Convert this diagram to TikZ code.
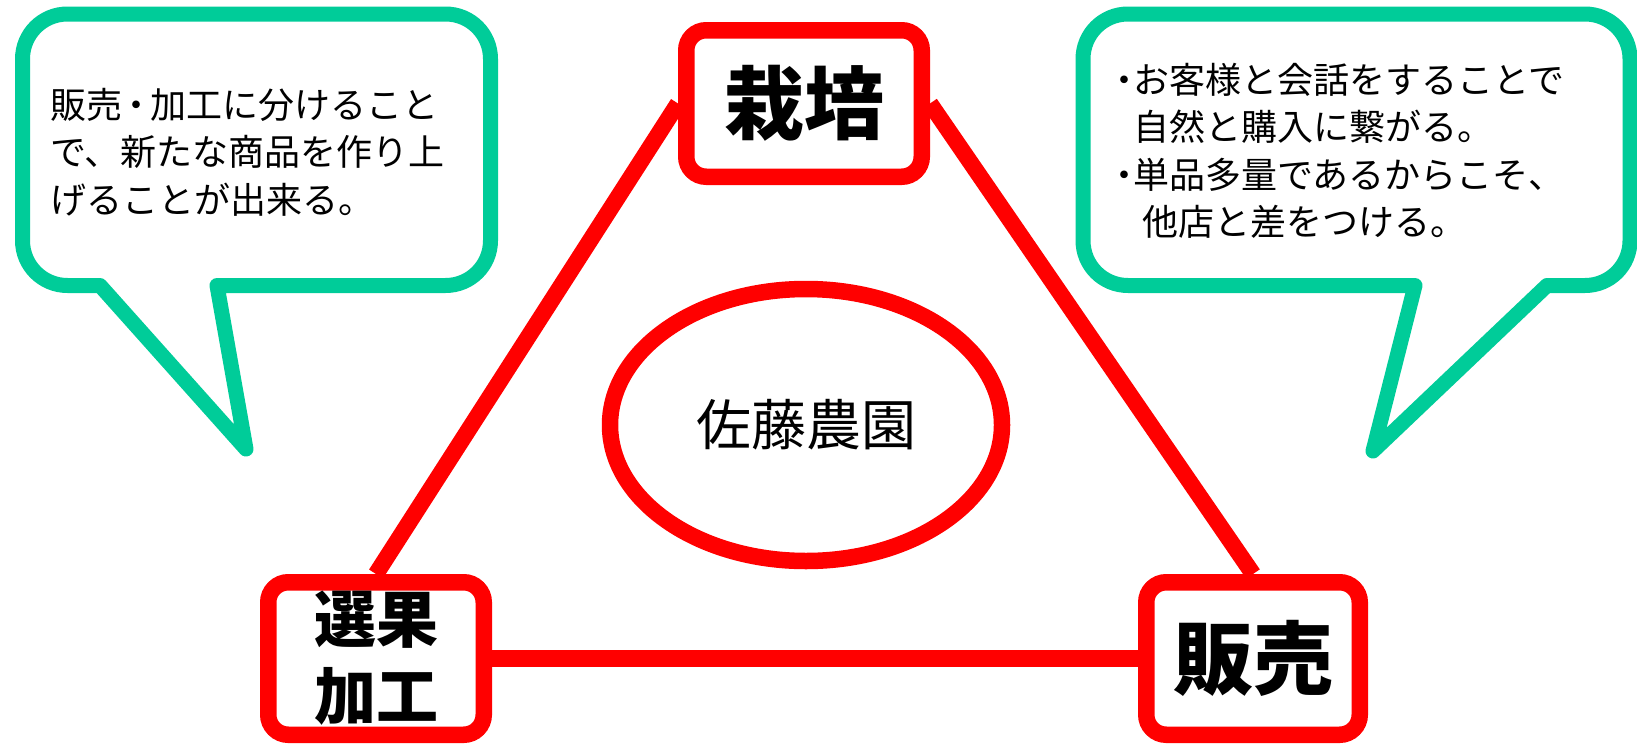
\documentclass[tikz,border=0pt]{standalone}
\usepackage{fontspec}
\setmainfont{Noto Sans CJK JP}
\usetikzlibrary{shapes.geometric}
\definecolor{myred}{RGB}{255,0,0}
\definecolor{mygreen}{RGB}{0,204,153}
\tikzset{
  redbox/.style={draw=myred, line width=16.5pt, fill=white, rounded corners=20pt,
    inner sep=0pt, align=center},
  redline/.style={draw=myred, line width=16.5pt},
  bubble/.style={draw=mygreen, line width=15pt, fill=white, line join=round},
  bubbletext/.style={anchor=north west, inner sep=0pt, align=left,
    font=\fontsize{36}{47.5}\selectfont},
  bigfont/.style={font=\bfseries\fontsize{80}{90}\selectfont},
}
\begin{document}
\begin{tikzpicture}[x=1pt,y=-1pt]
\useasboundingbox (0,0) rectangle (1637,744);
% speech bubbles
\draw[bubble] (67.5,14) -- (445.5,14) .. controls (470.5,14) and (490.5,34) .. (490.5,59)
  -- (490.5,240.5) .. controls (490.5,265.5) and (470.5,285.5) .. (445.5,285.5)
  -- (217,285.5) -- (246,449) -- (100,285.5) -- (67.5,285.5)
  .. controls (42.5,285.5) and (22.5,265.5) .. (22.5,240.5)
  -- (22.5,59) .. controls (22.5,34) and (42.5,14) .. (67.5,14) -- cycle;
\draw[bubble] (1128,14) -- (1585,14) .. controls (1610,14) and (1630,34) .. (1630,59)
  -- (1630,240.5) .. controls (1630,265.5) and (1610,285.5) .. (1585,285.5)
  -- (1547,285.5) -- (1373,451) -- (1415,285.5) -- (1128,285.5)
  .. controls (1103,285.5) and (1083,265.5) .. (1083,240.5)
  -- (1083,59) .. controls (1083,34) and (1103,14) .. (1128,14) -- cycle;
\node[bubbletext] (ltext) at (50,88)
  {販売\makebox[0.78em][c]{・}加工に分けること\\で、新たな商品を作り上\\げることが出来る。};
\node[bubbletext] (rtext) at (1115,63)
  {\makebox[0.5em][c]{・}お客様と会話をすることで\\
   \hspace*{0.5em}自然と購入に繋がる。\\
   \makebox[0.5em][c]{・}単品多量であるからこそ、\\
   \hspace*{0.75em}他店と差をつける。};
% box anchors first, connecting lines, then boxes on top
\coordinate (topc) at (804,103.5);
\coordinate (leftc) at (376,658.5);
\coordinate (rightc) at (1253,658.5);
\path (topc) node[redbox, draw=none, fill=none, minimum width=235.5pt, minimum height=146.5pt] (top0) {};
\path (leftc) node[redbox, draw=none, fill=none, minimum width=215.5pt, minimum height=152.5pt] (left0) {};
\path (rightc) node[redbox, draw=none, fill=none, minimum width=213.5pt, minimum height=152.5pt] (right0) {};
\draw[redline] (top0.west) -- (left0.north);
\draw[redline] (top0.east) -- (right0.north);
\draw[redline] (left0.east) -- (right0.west);
\node[redbox, bigfont, minimum width=235.5pt, minimum height=146.5pt] (top) at (topc) {栽培};
\node[redbox, font=\bfseries\fontsize{62}{77}\selectfont, minimum width=215.5pt, minimum height=152.5pt] (left) at (leftc) {選果\\加工};
\node[redbox, bigfont, minimum width=213.5pt, minimum height=152.5pt] (right) at (rightc) {販売};
% centre ellipse
\node[ellipse, draw=myred, line width=16.5pt, fill=white, inner sep=0pt,
  minimum width=392pt, minimum height=272pt, font=\fontsize{55}{60}\selectfont] (farm) at (806,425) {佐藤農園};
\end{tikzpicture}
\end{document}
